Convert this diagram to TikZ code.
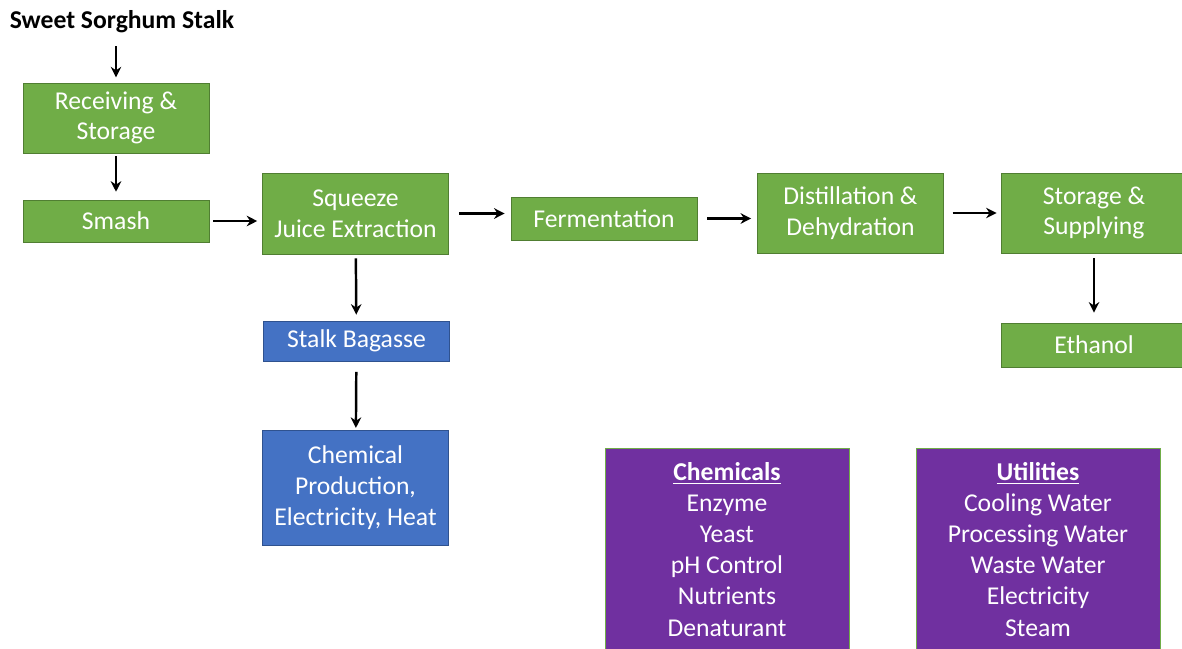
\documentclass[tikz,border=0pt]{standalone}
\usepackage{fontspec}
\setmainfont{Carlito}
\usetikzlibrary{arrows.meta}
\definecolor{procgreen}{HTML}{70AD47}
\definecolor{procgreenline}{HTML}{507E32}
\definecolor{prodblue}{HTML}{4472C4}
\definecolor{prodblueline}{HTML}{2F528F}
\definecolor{inpurple}{HTML}{7030A0}
\begin{document}
\begin{tikzpicture}[
        procnode/.style={
            rectangle,
            draw=procgreenline,
            fill=procgreen,
            text=white,
            align=center,
            inner sep=0pt,
            minimum width=3.72cm,
            font=\fontsize{14.6}{17.5}\selectfont
        },
        bynode/.style={
            rectangle,
            draw=prodblueline,
            fill=prodblue,
            text=white,
            align=center,
            inner sep=0pt,
            minimum width=3.72cm,
            font=\fontsize{14.6}{17.5}\selectfont
        },
        listnode/.style={
            rectangle,
            draw=procgreen,
            fill=inpurple,
            text=white,
            align=center,
            inner sep=0pt,
            minimum width=4.88cm,
            minimum height=4.04cm,
            anchor=north,
            font=\fontsize{14.6}{17.7}\selectfont
        },
        arrow/.style={
            -{Stealth[length=6pt,width=6pt]},
            line width=1.4pt,
            shorten >=3pt,
            shorten <=3pt
        }
    ]
        \useasboundingbox (0,0) rectangle (23.64,-12.96);

        % Main line
        \node[font=\fontsize{14.6}{16}\selectfont\bfseries] (stalk) at (2.44,-0.44)
            {Sweet Sorghum Stalk};
        \node[procnode, minimum height=1.40cm] (recv) at (2.32,-2.36)
            {Receiving \&\\Storage};
        \node[procnode, minimum height=0.84cm] (smash) at (2.32,-4.42) {Smash};
        \node[procnode, minimum height=1.62cm] (squeeze) at (7.11,-4.27)
            {Squeeze\\Juice Extraction};
        \node[procnode, minimum height=0.86cm] (ferm) at (12.08,-4.37)
            {Fermentation};
        \node[procnode, minimum height=1.60cm] (distil) at (17.01,-4.26)
            {Distillation \&\\Dehydration};
        \node[procnode, minimum height=1.60cm] (supply) at (21.88,-4.26)
            {Storage \&\\Supplying};
        \node[procnode, minimum height=0.88cm] (ethanol) at (21.88,-6.90)
            {Ethanol};

        \draw[arrow, shorten <=4pt] (stalk.south -| recv) -- (recv);
        \draw[arrow, shorten <=1.7pt, shorten >=4.5pt] (recv) -- (smash);
        \draw[arrow, shorten <=2.3pt, shorten >=2.8pt] (smash.east) -- (smash.east -| squeeze.west);
        \draw[arrow, shorten <=5.7pt, shorten >=3.4pt] (squeeze.east) -- (squeeze.east -| ferm.west);
        \draw[arrow, shorten <=5.7pt, shorten >=3.4pt] (ferm.east) -- (ferm.east -| distil.west);
        \draw[arrow, shorten <=5pt, shorten >=2.3pt] (distil.east) -- (distil.east -| supply.west);
        \draw[arrow, shorten <=2.8pt, shorten >=5.7pt] (supply) -- (ethanol);

        % By-products
        \node[bynode, minimum height=0.80cm] (bagasse) at (7.13,-6.82)
            {Stalk Bagasse};
        \node[bynode, minimum height=2.30cm] (chemprod) at (7.11,-9.75)
            {Chemical\\Production,\\Electricity, Heat};

        \draw[arrow, shorten <=2.3pt, shorten >=3.4pt] (squeeze) -- (bagasse);
        \draw[arrow, shorten <=6pt, shorten >=1pt] (bagasse) -- (chemprod);

        % Inputs
        \node[listnode] (chems) at (14.54,-8.96)
            {\textbf{\underline{Chemicals}}\\Enzyme\\Yeast\\pH Control\\Nutrients\\Denaturant};
        \node[listnode] (utils) at (20.76,-8.96)
            {\textbf{\underline{Utilities}}\\Cooling Water\\Processing Water\\Waste Water\\Electricity\\Steam};

    \end{tikzpicture}
\end{document}
